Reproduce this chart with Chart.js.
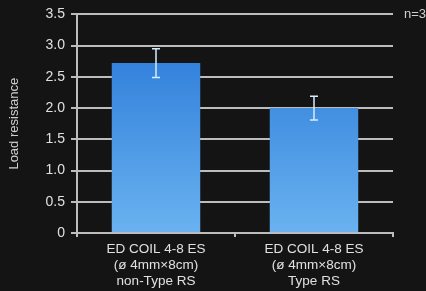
<!DOCTYPE html>
<html>
<head>
<meta charset="utf-8">
<script src="https://cdn.jsdelivr.net/npm/chart.js@4/dist/chart.umd.min.js"></script>
<style>
  html, body { margin: 0; padding: 0; background: #141414; }
  #wrap { width: 426px; height: 291px; }
</style>
</head>
<body>
<div id="wrap"><canvas id="loadChart" width="426" height="291"></canvas></div>
<script>
// chart data
const categories = [
    ['ED COIL 4-8 ES', '(\u00f8 4mm\u00d78cm)', 'non-Type RS'],
    ['ED COIL 4-8 ES', '(\u00f8 4mm\u00d78cm)', 'Type RS']
];
const meanValues = [2.72, 2.0];
const errorValues = [0.23, 0.19];
const yTickLabels = ['0', '0.5', '1.0', '1.5', '2.0', '2.5', '3.0', '3.5'];
const sampleNote = 'n=3';

const FONT = '"Liberation Sans", Arial, sans-serif';

// vertical gradient for bars, dark on top, light at bottom
function barGradient(context) {
    const chart = context.chart;
    const area = chart.chartArea;
    if (!area) return '#3b8ee0';
    const g = chart.ctx.createLinearGradient(0, area.top, 0, area.bottom);
    g.addColorStop(0, '#2474d6');
    g.addColorStop(1, '#6ab2f0');
    return g;
}

// error bars drawn from the data through the y scale
const errorBars = {
    id: 'errorBars',
    afterDatasetsDraw(chart) {
        const ctx = chart.ctx;
        const yScale = chart.scales.y;
        const meta = chart.getDatasetMeta(0);
        ctx.save();
        ctx.strokeStyle = '#d6ecff';
        ctx.lineWidth = 1.5;
        meta.data.forEach((bar, i) => {
            const top = yScale.getPixelForValue(meanValues[i] + errorValues[i]);
            const bottom = yScale.getPixelForValue(meanValues[i] - errorValues[i]);
            ctx.beginPath();
            ctx.moveTo(bar.x, top);
            ctx.lineTo(bar.x, bottom);
            ctx.moveTo(bar.x - 4, top);
            ctx.lineTo(bar.x + 4, top);
            ctx.moveTo(bar.x - 4, bottom);
            ctx.lineTo(bar.x + 4, bottom);
            ctx.stroke();
        });
        ctx.restore();
    }
};

// "n=3" note at the top right
const noteText = {
    id: 'noteText',
    afterDraw(chart) {
        const ctx = chart.ctx;
        ctx.save();
        ctx.fillStyle = '#cfcfcf';
        ctx.font = '13px ' + FONT;
        ctx.textBaseline = 'middle';
        ctx.fillText(sampleNote, chart.chartArea.right + 11, chart.scales.y.getPixelForValue(3.5));
        ctx.restore();
    }
};

new Chart(document.getElementById('loadChart'), {
    type: 'bar',
    data: {
        labels: categories,
        datasets: [{
            data: meanValues,
            backgroundColor: barGradient,
            borderWidth: 0,
            barPercentage: 0.56,
            categoryPercentage: 1.0
        }]
    },
    options: {
        responsive: false,
        animation: false,
        layout: { padding: { top: 14, right: 33, left: 0, bottom: 0 } },
        plugins: {
            legend: { display: false },
            tooltip: { enabled: false }
        },
        scales: {
            x: {
                afterFit: scale => { scale.height = 58; },
                grid: {
                    offset: true,
                    drawOnChartArea: false,
                    drawTicks: true,
                    tickLength: 4,
                    color: '#bdbdbd',
                    lineWidth: 2
                },
                border: { color: '#bdbdbd', width: 2 },
                ticks: {
                    color: '#e0e0e0',
                    font: { family: FONT, size: 13.5, lineHeight: 1.2 },
                    padding: 4,
                    maxRotation: 0
                }
            },
            y: {
                min: 0,
                max: 3.5,
                afterFit: scale => { scale.width = 77; },
                grid: {
                    color: '#bdbdbd',
                    lineWidth: 2,
                    tickLength: 6
                },
                border: { color: '#bdbdbd', width: 2 },
                ticks: {
                    stepSize: 0.5,
                    color: '#e0e0e0',
                    font: { family: FONT, size: 14 },
                    padding: 6,
                    callback: (value, index) => yTickLabels[index]
                },
                title: {
                    display: true,
                    text: 'Load resistance',
                    color: '#d0d0d0',
                    font: { family: FONT, size: 13 },
                    padding: { top: 7, bottom: 0 }
                }
            }
        }
    },
    plugins: [errorBars, noteText]
});
</script>
</body>
</html>
